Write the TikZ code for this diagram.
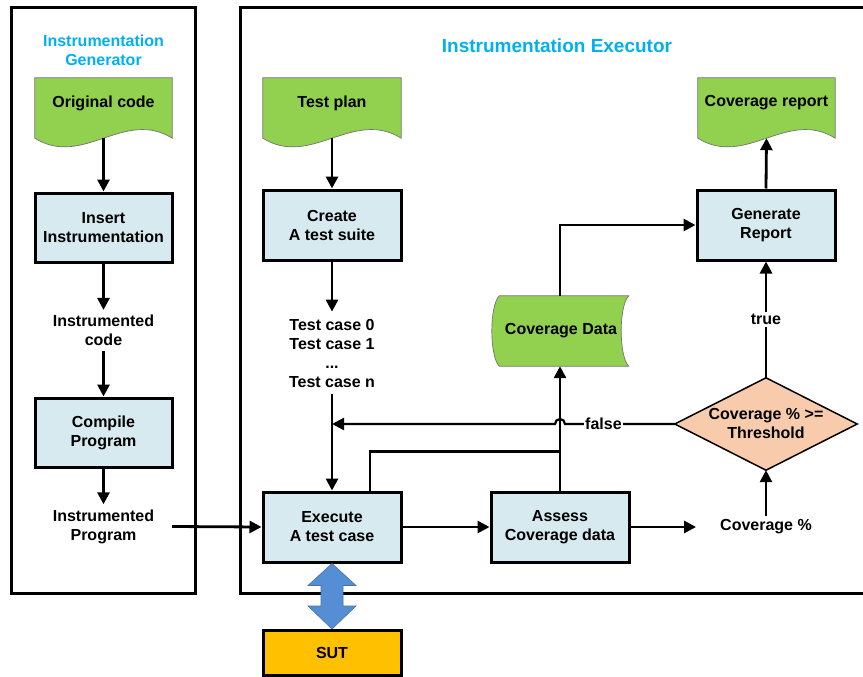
\documentclass[tikz,border=0pt]{standalone}
\usepackage{fontspec}
\setmainfont{Liberation Sans}
\usetikzlibrary{arrows.meta,calc}
\definecolor{ttl}{RGB}{0,176,240}
\definecolor{boxfill}{RGB}{214,234,240}
\definecolor{docgreen}{RGB}{146,208,80}
\definecolor{diafill}{RGB}{248,203,173}
\definecolor{sutfill}{RGB}{255,192,0}
\definecolor{dblue}{RGB}{85,142,213}
\newcommand\docwave[1]{\draw[docline] (#1.north west) -- (#1.north east) -- (#1.south east)
  .. controls ($(#1.south east)+(-48,-30)$) and ($(#1.south west)+(48,30)$) .. (#1.south west) -- cycle;}
\begin{document}
\begin{tikzpicture}[x=1pt,y=-1pt,
  lbl/.style={font=\fontsize{16}{19}\selectfont\bfseries, align=center},
  procbox/.style={lbl, draw, line width=3pt, fill=boxfill, minimum width=138pt, minimum height=70pt, inner sep=0pt},
  docbox/.style={minimum width=138pt, minimum height=60pt, inner sep=0pt},
  docline/.style={draw=black!55, line width=0.7pt, fill=docgreen},
  arr/.style={line width=2.8pt, -{Triangle[length=12pt,width=12pt]}},
  plainline/.style={line width=2.8pt},
  frame/.style={line width=3pt},
  txt/.style={lbl, inner xsep=2pt, inner ysep=5pt},
  ttlstyle/.style={font=\fontsize{16}{19}\selectfont\bfseries, text=ttl, align=center}]
\clip (0,0) rectangle (863,677);
\fill[white] (0,0) rectangle (863,677);
% frames
\draw[frame] (11,8) rectangle (195,593);
\draw[frame] (240,8) rectangle (900,593);
\node[ttlstyle] (gtitle) at (103.5,50) {Instrumentation\\Generator};
\node[ttlstyle, font=\fontsize{19}{22}\selectfont\bfseries] (etitle) at (557,46) {Instrumentation Executor};
% documents
\node[docbox, minimum width=137pt] (orig) at (103.5,108) {};
\docwave{orig}
\node[lbl] (origT) at (103.5,103) {Original code};
\node[docbox] (plan) at (332,108) {};
\docwave{plan}
\node[lbl] (planT) at (332,103) {Test plan};
\node[docbox, minimum width=137pt] (rep) at (766.5,108) {};
\docwave{rep}
\node[lbl] (repT) at (766.5,103) {Coverage report};
% left column
\node[procbox, minimum width=137pt, minimum height=69pt] (ins) at (103.5,227.5) {Insert\\Instrumentation};
\node[txt] (icode) at (103.5,330.5) {Instrumented\\code};
\node[procbox, minimum width=137pt, minimum height=69pt] (comp) at (103.5,432.5) {Compile\\Program};
\node[txt, minimum width=137pt] (iprog) at (103.5,526.5) {Instrumented\\Program};
% executor
\node[procbox] (create) at (332,225) {Create\\A test suite};
\node[txt, inner ysep=7pt] (tc) at (332,353) {Test case 0\\Test case 1\\...\\Test case n};
\node[procbox] (exec) at (332,527) {Execute\\A test case};
\node[procbox] (assess) at (560,527) {Assess\\Coverage data};
\node[procbox] (gen) at (766,225) {Generate\\Report};
\node[procbox, fill=sutfill, minimum height=45pt] (sut) at (332,653) {SUT};
% coverage data (stored data shape)
\node[minimum width=129pt, minimum height=70pt, inner sep=0pt] (cd) at (560,331) {};
\draw[docline] ($(cd.north west)+(4,0)$) -- ($(cd.north east)+(4,0)$)
  .. controls ($(cd.north east)+(-6,10)$) and ($(cd.south east)+(-6,-10)$) .. ($(cd.south east)+(4,0)$)
  -- ($(cd.south west)+(4,0)$)
  .. controls ($(cd.south west)+(-6,-10)$) and ($(cd.north west)+(-6,10)$) .. ($(cd.north west)+(4,0)$) -- cycle;
\node[lbl] (cdT) at (561,331) {Coverage Data};
% diamond
\node[minimum width=182pt, minimum height=92pt, inner sep=0pt] (dia) at (766,424) {};
\draw[fill=diafill, line width=1.5pt, line join=miter] (dia.west) -- (dia.north) -- (dia.east) -- (dia.south) -- cycle;
\node[lbl] (diaT) at (766,423) {Coverage \% >=\\Threshold};
\node[lbl, inner xsep=24pt, inner ysep=4pt] (covpct) at (766,527) {Coverage \%};
% connectors
\draw[arr] (orig.south) -- (ins.north);
\draw[arr] (ins.south) -- (icode.north);
\draw[arr] (icode.south) -- (comp.north);
\draw[arr] (comp.south) -- (iprog.north);
\draw[arr] (iprog.east) -- (exec.west);
\draw[arr] (plan.south) -- (create.north);
\draw[arr] (create.south) -- (tc.north);
\draw[arr] (tc.south) -- (exec.north);
\draw[plainline] ($(exec.north)+(38,0)$) |- ($(assess.north)+(0,-39)$);
\draw[arr] (assess.north) -- (assess.north |- cd.south);
\draw[arr] (assess.north |- cd.north) |- (gen.west);
\draw[arr] (gen.north) -- (rep.south);
\draw[arr] (exec.east) -- (assess.west);
\draw[arr] (assess.east) -- (covpct.west);
\draw[arr] (covpct.north) -- (dia.south);
\draw[arr] (dia.north) -- node[lbl, fill=white, inner sep=2pt] (truel) {true} (gen.south);
\coordinate (hopR) at ($(assess.north |- dia.west)+(5,0)$);
\draw[arr, line width=2.2pt] (dia.west) -- node[lbl, fill=white, inner xsep=1pt, inner ysep=2pt, pos=0.65] (falsel) {false} (hopR)
  arc[start angle=0, end angle=180, radius=5pt] -- (tc.south |- dia.west);
% double arrow to SUT
\draw[draw=dblue!80!black, line width=0.6pt, fill=dblue]
  (exec.south) -- ($(exec.south)+(24,22)$) -- ($(exec.south)+(11,22)$) -- ($(sut.north)+(11,-23)$)
  -- ($(sut.north)+(24,-23)$) -- (sut.north) -- ($(sut.north)+(-24,-23)$) -- ($(sut.north)+(-11,-23)$)
  -- ($(exec.south)+(-11,22)$) -- ($(exec.south)+(-24,22)$) -- cycle;
\end{tikzpicture}
\end{document}
